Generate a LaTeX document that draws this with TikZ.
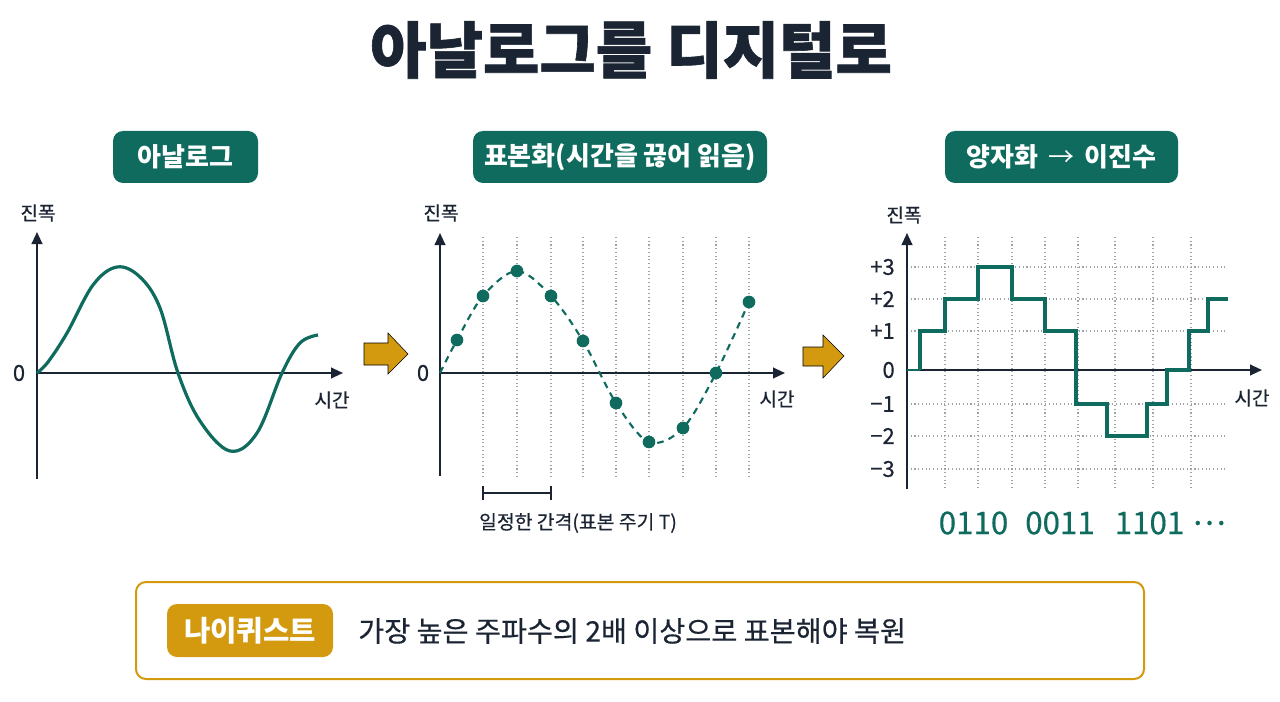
\documentclass[tikz,border=0pt]{standalone}
\usepackage{fontspec}
\setmainfont{Noto Sans CJK KR}
\newfontfamily\krmed{Noto Sans CJK KR}[FakeBold=0.4]
\usetikzlibrary{arrows.meta}
\definecolor{teal1}{HTML}{0E6B5E}
\definecolor{gold1}{HTML}{D49A0F}
\definecolor{ink}{HTML}{1B2433}
\definecolor{gridc}{HTML}{9EA3A8}
\tikzset{
  pill/.style={fill=teal1, rounded corners=7.5pt, text=white, inner sep=0pt,
    minimum height=39pt, font=\fontsize{19.5}{21}\bfseries},
  goldpill/.style={fill=gold1, rounded corners=7.5pt, text=white, inner sep=0pt,
    minimum height=39.75pt, minimum width=124.5pt, font=\fontsize{21.5}{23}\bfseries},
  axis/.style={draw=ink, line width=1.5pt, -{Triangle[length=9pt,width=8pt]}},
  axlbl/.style={text=ink, inner sep=0pt, font=\fontsize{14.3}{16}\krmed},
  zerolbl/.style={text=ink, inner sep=0pt, font=\fontsize{16.5}{18}\krmed},
  lvl/.style={text=ink, inner sep=0pt, anchor=east, font=\fontsize{16.5}{18}\krmed},
  wave/.style={draw=teal1, line width=2.4pt},
  gridln/.style={draw=gridc, line width=0.8pt, dotted},
  sample/.style={circle, fill=teal1, inner sep=0pt, minimum size=9.5pt},
  blockarrow/.style={fill=gold1},
  binary/.style={text=teal1, inner sep=0pt, font=\fontsize{23.5}{26}\krmed},
}
\begin{document}
\begin{tikzpicture}[x=0.75pt,y=-0.75pt]
\useasboundingbox[fill=white] (0,0) rectangle (1280,702);

% title
\node[text=ink, inner sep=0pt, font=\fontsize{46}{50}\bfseries\addfontfeature{FakeBold=1}] (title) at (631,50) {아날로그를 디지털로};

% headers
\node[pill, minimum width=108.75pt] (p1) at (185.5,157) {아날로그};
\node[pill, minimum width=220.5pt] (p2) at (620,157) {표본화(시간을 끊어 읽음)};
\node[pill, minimum width=174.75pt] (p3) at (1061.5,157) {양자화 \,\textmd{→}\, 이진수};

% ---------- panel 1 ----------
\coordinate (a1o) at (37,373);
\coordinate (a1t) at (37,232);
\coordinate (a1b) at (37,479);
\coordinate (a1r) at (343,373);
\draw[axis] (a1b) -- (a1t);
\draw[axis] (a1o) -- (a1r);
\node[axlbl] (amp1) at (38,213) {진폭};
\node[axlbl] (time1) at (332,400) {시간};
\node[zerolbl] (zero1) at (19,373) {0};
\draw[wave] plot[smooth, tension=0.6] coordinates {(37,373) (48,362) (67,333) (93,285) (117,267) (140,277) (160,308) (178,373) (200,421) (230,451) (257,433) (282,373) (300,343) (318,335)};

% arrow 1
\draw[blockarrow] (364,343) -- (388,343) -- (388,333) -- (408,354) -- (388,374) -- (388,365) -- (364,365) -- cycle;

% ---------- panel 2 ----------
\foreach \x in {483,517,551,583,616,649,683,716,749}
  \draw[gridln] (\x,237) -- (\x,476);
\coordinate (a2o) at (440,373);
\coordinate (a2t) at (440,233);
\coordinate (a2b) at (440,476);
\coordinate (a2r) at (785,373);
\draw[axis] (a2b) -- (a2t);
\draw[axis] (a2o) -- (a2r);
\node[axlbl] (amp2) at (441,213) {진폭};
\node[axlbl] (time2) at (777,399) {시간};
\node[zerolbl] (zero2) at (423,373) {0};
\draw[draw=teal1, line width=1.6pt, dash pattern=on 5pt off 4pt] plot[smooth, tension=0.55] coordinates {(440,373) (457,340) (483,296) (517,271) (551,296) (583,341) (616,403) (649,442) (683,428) (716,373) (749,302)};
\foreach \n/\x/\y in {s1/457/340, s2/483/296, s3/517/271, s4/551/296, s5/583/341, s6/616/403, s7/649/442, s8/683/428, s9/716/373, s10/749/302}
  \node[sample] (\n) at (\x,\y) {};
% bracket
\coordinate (bl) at (483,493);
\coordinate (br) at (551,493);
\draw[ink, line width=1.2pt] (bl) -- (br);
\draw[ink, line width=1.2pt] ([yshift=-5.5pt]bl) -- ([yshift=5.5pt]bl);
\draw[ink, line width=1.2pt] ([yshift=-5.5pt]br) -- ([yshift=5.5pt]br);
\node[axlbl, font=\fontsize{14.5}{16}\krmed] (period) at (578,523) {일정한 간격(표본 주기 T)};

% arrow 2
\draw[blockarrow] (803,347) -- (823,347) -- (823,335) -- (844,356) -- (823,378) -- (823,366) -- (803,366) -- cycle;

% ---------- panel 3 ----------
\foreach \y in {267,299,331,404,436,469}
  \draw[gridln] (907,\y) -- (1228,\y);
\foreach \x in {945,978,1012,1045,1078,1115,1153,1191}
  \draw[gridln] (\x,237) -- (\x,489);
\coordinate (a3o) at (907,370);
\coordinate (a3t) at (907,233);
\coordinate (a3b) at (907,489);
\coordinate (a3r) at (1262,370);
\draw[axis] (a3b) -- (a3t);
\draw[axis] (a3o) -- (a3r);
\node[axlbl] (amp3) at (904,215) {진폭};
\node[axlbl] (time3) at (1252,398) {시간};
\node[lvl] (l3) at (895,267) {+3};
\node[lvl] (l2) at (895,299) {+2};
\node[lvl] (l1) at (895,331) {+1};
\node[lvl] (l0) at (895,370) {0};
\node[lvl] (lm1) at (895,404) {−1};
\node[lvl] (lm2) at (895,436) {−2};
\node[lvl] (lm3) at (895,469) {−3};
\draw[draw=teal1, line width=1pt] (907,370) -- (920,370);
\draw[draw=teal1, line width=2.6pt, line join=miter] (920,370) -- (920,331) -- (945,331) -- (945,299) -- (978,299) -- (978,267) -- (1012,267) -- (1012,299) -- (1045,299) -- (1045,331) -- (1076,331) -- (1076,404) -- (1107,404) -- (1107,436) -- (1147,436) -- (1147,404) -- (1167,404) -- (1167,370) -- (1189,370) -- (1189,331) -- (1208,331) -- (1208,299) -- (1228,299);
\node[binary] (b1) at (973.5,523) {0110};
\node[binary] (b2) at (1060,523) {0011};
\node[binary] (b3) at (1149.5,523) {1101};
\node[binary] (b4) at (1209,523) {⋯};

% ---------- Nyquist box ----------
\draw[draw=gold1, line width=1.5pt, rounded corners=7.5pt] (136,582) rectangle (1144,679);
\node[goldpill] (nq) at (250,630.5) {나이퀴스트};
\node[anchor=west, text=ink, inner sep=0pt, font=\fontsize{21.2}{23}\krmed] (nqtext) at (358,631) {가장 높은 주파수의 2배 이상으로 표본해야 복원};
\end{tikzpicture}
\end{document}
